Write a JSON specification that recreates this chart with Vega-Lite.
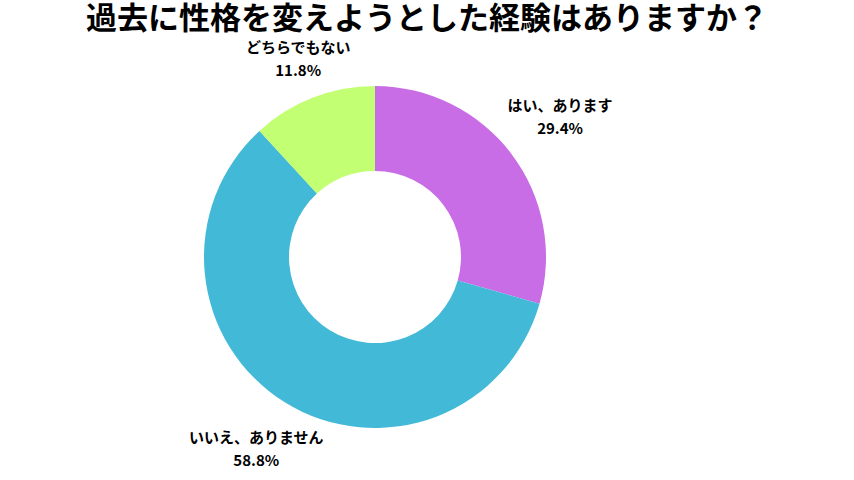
{
  "$schema": "https://vega.github.io/schema/vega-lite/v6.json",
  "autosize": "none",
  "width": 500,
  "height": 400,
  "padding": {"left": 125, "top": 57, "right": 229, "bottom": 23},
  "background": "white",
  "title": {
    "text": "過去に性格を変えようとした経験はありますか？",
    "font": "Noto Sans CJK JP",
    "fontSize": 31,
    "fontWeight": "bold",
    "color": "#000000",
    "anchor": "middle",
    "dx": 52,
    "baseline": "alphabetic",
    "offset": -19
  },
  "data": {
    "values": [
      {"idx": 1, "label": "はい、あります", "pct": "29.4%", "value": 29.4},
      {"idx": 2, "label": "いいえ、ありません", "pct": "58.8%", "value": 58.8},
      {"idx": 3, "label": "どちらでもない", "pct": "11.8%", "value": 11.8}
    ]
  },
  "transform": [
    {"stack": "value", "sort": [{"field": "idx", "order": "ascending"}], "as": ["s0", "s1"]},
    {"calculate": "(datum.s0 + datum.s1) / 2", "as": "mid"},
    {"calculate": "[datum.label, datum.pct]", "as": "txt"}
  ],
  "layer": [
    {
      "mark": {"type": "arc", "outerRadius": 171, "innerRadius": 86},
      "encoding": {
        "theta": {"field": "s0", "type": "quantitative", "scale": {"domain": [0, 100]}},
        "theta2": {"field": "s1"},
        "color": {
          "field": "label",
          "type": "nominal",
          "scale": {
            "domain": ["はい、あります", "いいえ、ありません", "どちらでもない"],
            "range": ["#c96de6", "#42b9d6", "#c3ff73"]
          },
          "legend": null
        }
      }
    },
    {
      "transform": [{"filter": "datum.idx == 1"}],
      "mark": {"type": "text", "radius": 232, "dy": -11, "lineHeight": 23, "baseline": "middle", "font": "Noto Sans CJK JP", "fontSize": 15, "fontWeight": "bold", "color": "#000000"},
      "encoding": {
        "theta": {"field": "mid", "type": "quantitative", "stack": null},
        "text": {"field": "txt"}
      }
    },
    {
      "transform": [{"filter": "datum.idx == 2"}],
      "mark": {"type": "text", "radius": 226, "dy": -11, "lineHeight": 23, "baseline": "middle", "font": "Noto Sans CJK JP", "fontSize": 15, "fontWeight": "bold", "color": "#000000"},
      "encoding": {
        "theta": {"field": "mid", "type": "quantitative", "stack": null},
        "text": {"field": "txt"}
      }
    },
    {
      "transform": [{"filter": "datum.idx == 3"}],
      "mark": {"type": "text", "radius": 212, "dy": -11, "lineHeight": 23, "baseline": "middle", "font": "Noto Sans CJK JP", "fontSize": 15, "fontWeight": "bold", "color": "#000000"},
      "encoding": {
        "theta": {"field": "mid", "type": "quantitative", "stack": null},
        "text": {"field": "txt"}
      }
    }
  ],
  "config": {"view": {"stroke": null}}
}
